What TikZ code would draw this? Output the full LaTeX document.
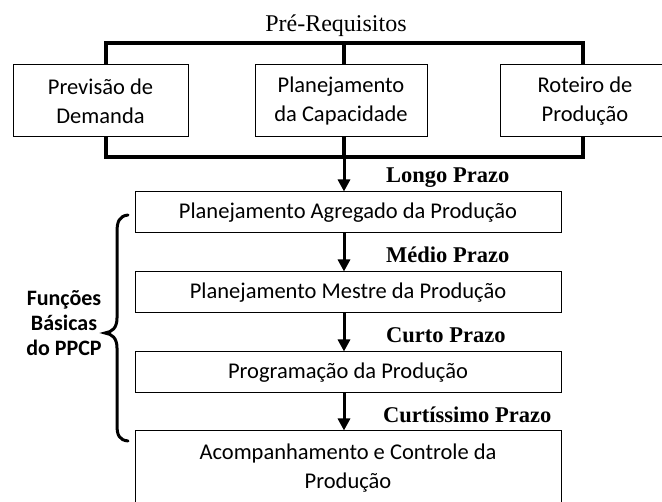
\documentclass[tikz,border=0pt]{standalone}
\usepackage{fontspec}
\setmainfont{Liberation Serif}
\newfontfamily\carl{Carlito}
\usetikzlibrary{arrows.meta}
\begin{document}
\begin{tikzpicture}[x=1pt,y=-1pt,
  box/.style={draw, line width=1pt, inner sep=0pt, align=center,
    font=\carl\fontsize{22.5}{29}\selectfont},
  bracket/.style={line width=3.5pt},
  flow/.style={line width=3pt, -{Triangle[length=12pt,width=12pt]}},
  term/.style={font=\bfseries\fontsize{22.5}{26}\selectfont, anchor=base west, inner sep=0pt},
  bracestyle/.style={line width=3pt, line cap=round}]
\useasboundingbox (0,0) rectangle (662,502);

% title
\node[font=\fontsize{24}{28}\selectfont, anchor=base, inner sep=0pt] (title) at (336,32) {Pré-Requisitos};

% prerequisite boxes
\node[box, minimum width=175pt, minimum height=72pt] (L) at (100.5,101) {Previsão de\\Demanda};
\node[box, minimum width=172pt, minimum height=72pt] (C) at (341,101) {Planejamento\\da Capacidade};
\node[box, minimum width=170pt, minimum height=72pt] (R) at (585,101) {Roteiro de\\Produção};

% bracket corners
\coordinate (tL) at (106,43);
\coordinate (tC) at (344,43);
\coordinate (tR) at (583,43);
\coordinate (bL) at (106,157);
\coordinate (bC) at (344,157);
\coordinate (bR) at (583,157);

\draw[bracket] (L.north -| tL) -- (tL) -- (tR) -- (R.north -| tR);
\draw[bracket] (C.north -| tC) -- (tC);
\draw[bracket] (L.south -| bL) -- (bL) -- (bR) -- (R.south -| bR);
\draw[bracket] (C.south -| bC) -- (bC);

% function boxes
\node[box, minimum width=426pt, minimum height=41pt] (B1) at (348,212.5) {Planejamento Agregado da Produção};
\node[box, minimum width=426pt, minimum height=41pt] (B2) at (348,292.5) {Planejamento Mestre da Produção};
\node[box, minimum width=426pt, minimum height=41pt] (B3) at (348,372.5) {Programação da Produção};
\node[box, minimum width=426pt, minimum height=74pt] (B4) at (348,468) {Acompanhamento e Controle da\\Produção};

% arrows
\draw[flow] (bC) -- (bC |- B1.north);
\draw[flow] (bC |- B1.south) -- (bC |- B2.north);
\draw[flow] (bC |- B2.south) -- (bC |- B3.north);
\draw[flow] (bC |- B3.south) -- (bC |- B4.north);

% horizon labels
\node[term] (t1) at (386,183) {Longo Prazo};
\node[term] (t2) at (386,263) {Médio Prazo};
\node[term] (t3) at (386,343) {Curto Prazo};
\node[term] (t4) at (383,423) {Curtíssimo Prazo};

% brace and label
\draw[bracestyle] (128,215) .. controls (119,216) and (117,222) .. (117,232)
  -- (117,318) .. controls (117,328) and (112,332) .. (105,333)
  .. controls (112,334) and (117,338) .. (117,348)
  -- (117,425) .. controls (117,435) and (119,440) .. (128,441);
\node[font=\carl\bfseries\fontsize{22}{25}\selectfont, align=center, inner sep=0pt] (F) at (64,323) {Funções\\Básicas\\do PPCP};
\end{tikzpicture}
\end{document}
